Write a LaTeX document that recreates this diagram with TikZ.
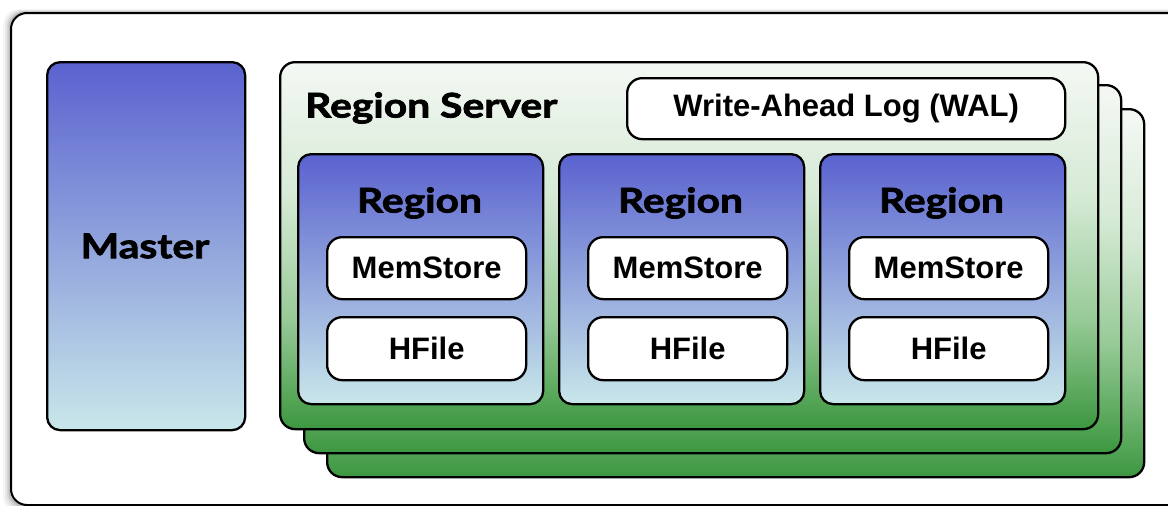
\documentclass[tikz,border=0pt]{standalone}
\usepackage{fontspec}
\setmainfont{Liberation Sans}
\newfontfamily\titlefont[FakeStretch=1.2, BoldFeatures={FakeBold=2.2}]{Lato}
\definecolor{bluetop}{HTML}{5A62CF}
\definecolor{bluebot}{HTML}{C9E7EA}
\definecolor{gtop}{HTML}{F4F8F4}
\definecolor{gmid1}{HTML}{D6EAD6}
\definecolor{gmid2}{HTML}{97CA97}
\definecolor{gbot}{HTML}{3C973F}
\pgfdeclareverticalshading{srvshade}{100bp}{color(0bp)=(gbot); color(25bp)=(gbot); color(40bp)=(gmid2); color(57bp)=(gmid1); color(75bp)=(gtop); color(100bp)=(gtop)}
\begin{document}
\begin{tikzpicture}[x=1pt,y=-1pt,
  border/.style={draw=black, line width=2.3pt, inner sep=0pt, anchor=north west},
  bluebox/.style={border, rounded corners=13pt, top color=bluetop, bottom color=bluebot},
  server/.style={border, rounded corners=15pt, shade, shading=srvshade},
  whitebox/.style={border, rounded corners=15pt, fill=white},
  lbl/.style={font=\fontsize{31}{36}\selectfont\bfseries, text=black, inner sep=0pt},
  ttl/.style={font=\titlefont\fontsize{34}{40}\selectfont\bfseries, text=black, inner sep=0pt}]
\useasboundingbox (0,0) rectangle (1168,506);
% outer frame shadow
\foreach \i/\o in {7/0.04,5/0.06,3/0.08,1.5/0.1}{
  \fill[black, opacity=\o, rounded corners=16pt] (10-\i,12-0.4*\i) rectangle (1190,506+\i);
}
\node[draw=black, line width=2pt, rounded corners=16pt, fill=white, inner sep=0pt, anchor=north west,
  minimum width=1180pt, minimum height=492pt] (frame) at (10,12) {};
% master
\node[bluebox, minimum width=198pt, minimum height=368pt] (master) at (46,61) {};
\node[ttl] (mastertxt) at (145,246) {Master};
% region servers (back to front)
\node[server, minimum width=817pt, minimum height=368pt] (rs3) at (326,108) {};
\node[server, minimum width=817pt, minimum height=368pt] (rs2) at (303,84) {};
\node[server, minimum width=818pt, minimum height=367pt] (rs1) at (279,61) {};
\node[ttl, anchor=west] (rstxt) at (305,108) {Region Server};
\node[whitebox, minimum width=438pt, minimum height=61pt] (wal) at (626,77) {};
\node[lbl] (waltxt) at (wal.center) {Write-Ahead Log (WAL)};
% regions
\foreach \n/\x in {1/297,2/558,3/819}{
  \node[bluebox, minimum width=245pt, minimum height=250pt] (reg\n) at (\x,153) {};
  \node[ttl] (regtxt\n) at (\x+122.5,203) {Region};
  \node[whitebox, minimum width=199pt, minimum height=62pt] (mem\n) at (\x+29,236) {};
  \node[lbl] (memtxt\n) at (mem\n.center) {MemStore};
  \node[whitebox, minimum width=199pt, minimum height=63pt] (hf\n) at (\x+29,316) {};
  \node[lbl] (hftxt\n) at (hf\n.center) {HFile};
}
\end{tikzpicture}
\end{document}
